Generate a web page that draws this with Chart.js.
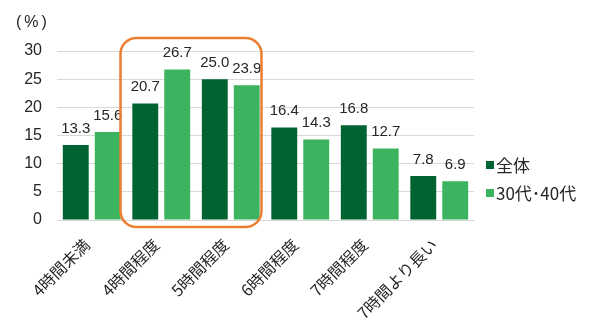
<!DOCTYPE html>
<html>
<head>
<meta charset="utf-8">
<script src="https://cdn.jsdelivr.net/npm/chart.js@4/dist/chart.umd.min.js"></script>
<style>
	html, body { margin: 0; padding: 0; background: #fff; }
	#wrap { width: 589px; height: 320px; }
</style>
</head>
<body>
<div id="wrap"><canvas id="graficoSono"></canvas></div>
<script>
var categorias = ['4時間未満', '4時間程度', '5時間程度', '6時間程度', '7時間程度', '7時間より長い'];
var valoresTodos = [13.3, 20.7, 25.0, 16.4, 16.8, 7.8];
var valores3040 = [15.6, 26.7, 23.9, 14.3, 12.7, 6.9];
var nomesSeries = ['全体', '30代･40代'];
var coresSeries = ['#006331', '#3BB35F'];

var FONTE = '"Liberation Sans", "Noto Sans CJK JP", sans-serif';

// rotulos de valor em cima das barras
var pluginRotulos = {
	id: 'rotulos',
	afterDatasetsDraw: function(chart) {
		var ctx = chart.ctx;
		ctx.save();
		ctx.font = '15px ' + FONTE;
		ctx.fillStyle = '#262626';
		ctx.textAlign = 'center';
		ctx.textBaseline = 'bottom';
		chart.data.datasets.forEach(function(ds, i) {
			chart.getDatasetMeta(i).data.forEach(function(bar, j) {
				ctx.fillText(ds.data[j].toFixed(1), bar.x, bar.y - 9);
			});
		});
		ctx.restore();
	}
};

// "(%)", legenda e o destaque laranja
var pluginExtras = {
	id: 'extras',
	afterDraw: function(chart) {
		var ctx = chart.ctx;
		var x = chart.scales.x;
		var y = chart.scales.y;
		ctx.save();

		ctx.font = '16px ' + FONTE;
		ctx.fillStyle = '#262626';
		ctx.textBaseline = 'middle';
		ctx.letterSpacing = '3px';
		ctx.fillText('(%)', 16, 23);
		ctx.letterSpacing = '0px';

		chart.data.datasets.forEach(function(ds, i) {
			var ly = 165 + i * 28;
			ctx.fillStyle = ds.backgroundColor;
			ctx.fillRect(486, ly - 4, 8, 8);
			ctx.fillStyle = '#262626';
			ctx.font = '17px "Noto Sans CJK JP", ' + FONTE;
			ctx.fillText(ds.label, 496, ly + 1);
		});

		var larg = x.getPixelForValue(1) - x.getPixelForValue(0);
		var esq = x.getPixelForValue(1) - larg / 2 - 6;
		var dir = x.getPixelForValue(2) + larg / 2 - 4;
		var topo = y.getPixelForValue(32.3);
		var base = y.getPixelForValue(0) + 7;
		ctx.strokeStyle = '#ED7D31';
		ctx.lineWidth = 2.5;
		ctx.beginPath();
		ctx.roundRect(esq, topo, dir - esq, base - topo, 16);
		ctx.stroke();

		ctx.restore();
	}
};

var grafico = new Chart(document.getElementById('graficoSono').getContext('2d'), {
	type: 'bar',
	data: {
		labels: categorias,
		datasets: [{
			label: nomesSeries[0],
			backgroundColor: coresSeries[0],
			data: valoresTodos
		}, {
			label: nomesSeries[1],
			backgroundColor: coresSeries[1],
			data: valores3040
		}]
	},
	options: {
		responsive: true,
		maintainAspectRatio: false,
		animation: false,
		layout: { padding: { top: 51, right: 115, left: 4, bottom: 0 } },
		datasets: { bar: { categoryPercentage: 0.92, barPercentage: 0.81 } },
		plugins: {
			legend: { display: false },
			tooltip: { enabled: false }
		},
		scales: {
			x: {
				afterFit: function(scale) { scale.height = 100; },
				grid: { display: false },
				border: { color: '#D9D9D9' },
				ticks: {
					color: '#262626',
					font: { family: '"Noto Sans CJK JP", sans-serif', size: 16 },
					minRotation: 45,
					maxRotation: 45,
					labelOffset: -5,
					padding: 7
				}
			},
			y: {
				min: 0,
				max: 30,
				afterFit: function(scale) { scale.width = 53; },
				grid: { color: '#D9D9D9', drawTicks: false },
				border: { display: false },
				ticks: {
					stepSize: 5,
					padding: 15,
					color: '#262626',
					font: { family: FONTE, size: 16 }
				}
			}
		}
	},
	plugins: [pluginRotulos, pluginExtras]
});
</script>
</body>
</html>
